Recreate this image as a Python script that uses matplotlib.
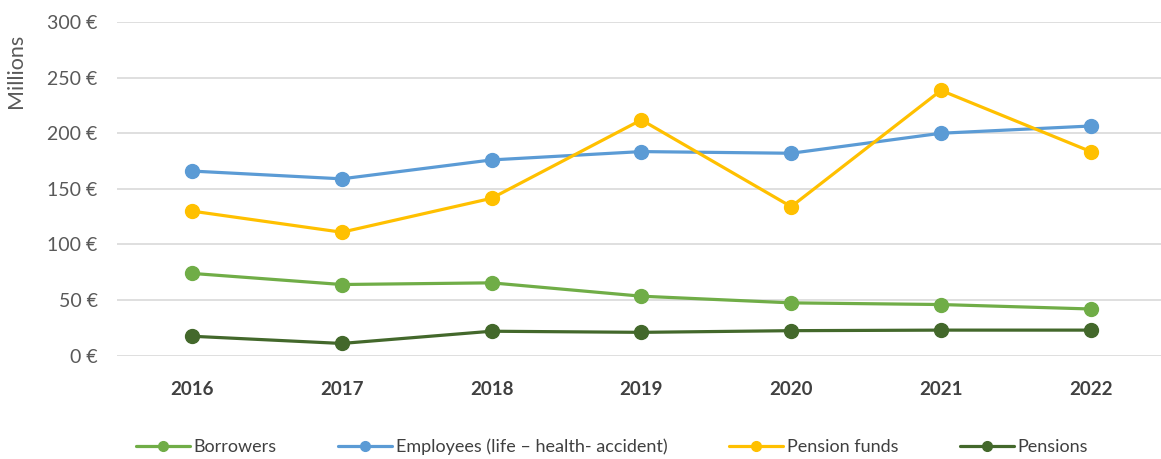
import matplotlib
matplotlib.use("Agg")
import matplotlib.pyplot as plt
from matplotlib.ticker import FixedLocator, FuncFormatter

plt.rcParams['font.family'] = ['Lato', 'DejaVu Sans']

years = ["2016", "2017", "2018", "2019", "2020", "2021", "2022"]
borrowers = [74, 64, 65.5, 53.5, 47.5, 46, 42]
employees = [166, 159, 176, 183.5, 182, 200, 206.5]
pension_funds = [130, 111, 141.5, 212, 134, 238.5, 183.5]
pensions = [17.5, 11, 22, 21, 22.5, 23, 23]

series = [
    ("Borrowers", borrowers, "#70AD47"),
    ("Employees (life \u2013 health- accident)", employees, "#5B9BD5"),
    ("Pension funds", pension_funds, "#FFC000"),
    ("Pensions", pensions, "#43682B"),
]

fig = plt.figure(figsize=(11.61, 4.59), dpi=100)
ax = fig.add_axes([117/1161, 1-355.7/459, 1-117/1161, (355.7-22)/459])

x = list(range(len(years)))
for name, vals, col in series:
    ax.plot(x, vals, color=col, lw=2.3, marker='o', markersize=10,
            label=name, clip_on=False, solid_capstyle='round')

ax.set_ylim(0, 300)
ax.set_xlim(-0.5, (1161-192)/149.8)
ax.yaxis.set_major_locator(FixedLocator([0, 50, 100, 150, 200, 250, 300]))
ax.yaxis.set_major_formatter(FuncFormatter(lambda v, p: f"{int(v)} \u20ac"))
ax.grid(axis='y', color='#D9D9D9', lw=1.2)
ax.set_axisbelow(True)
for s in ax.spines.values():
    s.set_visible(False)
ax.set_xticks(x)
ax.set_xticklabels(years, fontsize=13.5, fontweight='bold', color='#404040')
ax.tick_params(axis='x', length=0, pad=18)
ax.tick_params(axis='y', length=0, labelsize=14, labelcolor='#595959', pad=14)
ax.set_ylabel("Millions", fontsize=15.5, color='#595959')
ax.yaxis.set_label_coords(-0.087, 0.855)

fig.legend(loc='center', bbox_to_anchor=(612/1161, 1-447/459), ncol=4,
           frameon=False, fontsize=13, handlelength=3, columnspacing=3.4,
           handletextpad=0.2, labelcolor='#404040', markerscale=0.7)

fig.savefig("out.png", dpi=100)
